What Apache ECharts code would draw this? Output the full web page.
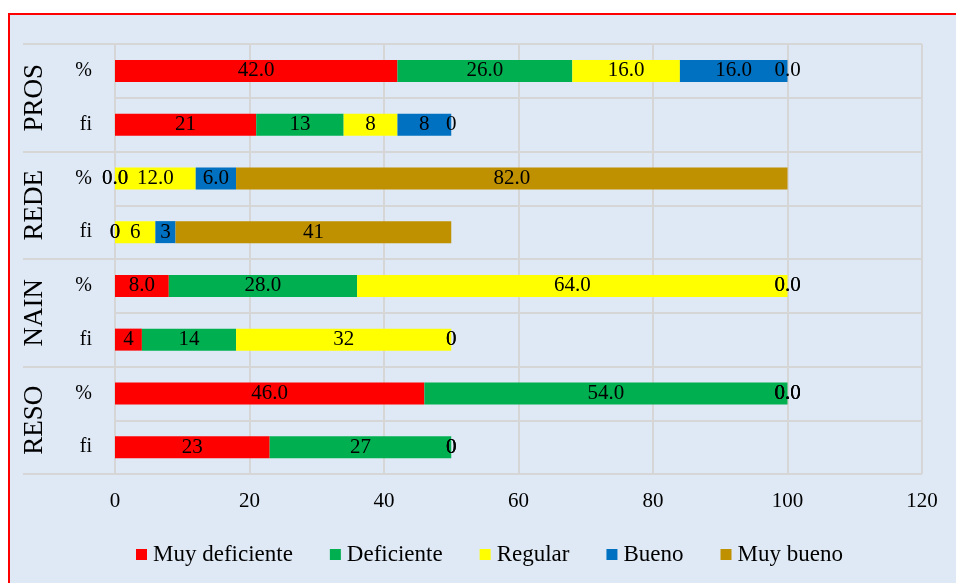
<!DOCTYPE html>
<html>
<head>
<meta charset="utf-8">
<script src="https://cdn.jsdelivr.net/npm/echarts@6/dist/echarts.min.js"></script>
<style>
  html, body { margin: 0; padding: 0; background: #ffffff; }
  #box {
    position: absolute; left: 8px; top: 13px; width: 1000px; height: 640px;
    border: 2px solid #ff0000; background: #dee9f5; box-sizing: border-box;
  }
  #chart { position: absolute; left: 0; top: 0; width: 956px; height: 583px; }
</style>
</head>
<body>
<div id="box"></div>
<div id="chart"></div>
<script>
// filas de arriba hacia abajo
const groups = ['PROS', 'REDE', 'NAIN', 'RESO'];
const rowLabels = ['%', 'fi', '%', 'fi', '%', 'fi', '%', 'fi'];
const legendNames = ['Muy deficiente', 'Deficiente', 'Regular', 'Bueno', 'Muy bueno'];

const muyDeficiente = [42, 21, 0, 0, 8, 4, 46, 23];
const deficiente    = [26, 13, 0, 0, 28, 14, 54, 27];
const regular       = [16, 8, 12, 6, 64, 32, 0, 0];
const bueno         = [16, 8, 6, 3, 0, 0, 0, 0];
const muyBueno      = [0, 0, 82, 41, 0, 0, 0, 0];

const xTicks = [0, 20, 40, 60, 80, 100, 120];

const colors = ['#ff0000', '#00b050', '#ffff00', '#0070c0', '#bf9000'];
const allValues = [muyDeficiente, deficiente, regular, bueno, muyBueno];
const font = 'Liberation Serif';

// categorias unicas: grupo + fila
const rowCats = rowLabels.map(function (r, i) { return groups[Math.floor(i / 2)] + ' ' + r; });

const myChart = echarts.init(document.getElementById('chart'));
const option = {
  animation: false,
  backgroundColor: 'transparent',
  color: colors,
  textStyle: { fontFamily: font },
  grid: {
    left: 115,
    right: 34,
    top: 44,
    bottom: 109
  },
  legend: {
    bottom: 12,
    left: 131,
    icon: 'rect',
    itemWidth: 11,
    itemHeight: 11,
    itemGap: 37,
    textStyle: { fontFamily: font, fontSize: 23, color: '#000', padding: [0, 0, 0, 1] },
    data: legendNames
  },
  xAxis: {
    type: 'value',
    min: xTicks[0],
    max: xTicks[xTicks.length - 1],
    interval: 20,
    axisLine: { show: false },
    axisTick: { show: false },
    axisLabel: { margin: 17, fontFamily: font, fontSize: 21, color: '#000' },
    splitLine: { lineStyle: { color: '#d6d6d6', width: 2 } }
  },
  yAxis: [
    {
      type: 'category',
      inverse: true,
      data: rowCats,
      axisLine: { show: true, lineStyle: { color: '#d6d6d6', width: 2 } },
      axisTick: { show: false },
      axisLabel: {
        margin: 23,
        fontFamily: font,
        fontSize: 20,
        color: '#000',
        formatter: function (v) { return v.split(' ')[1]; }
      },
      splitLine: { show: true, lineStyle: { color: '#d6d6d6', width: 2 } }
    },
    {
      type: 'category',
      inverse: true,
      position: 'left',
      data: groups,
      axisLine: { show: false },
      axisTick: { show: true, length: 92, interval: 0, lineStyle: { color: '#d6d6d6', width: 2 } },
      axisLabel: {
        rotate: 90,
        margin: 67,
        fontFamily: font,
        fontSize: 27,
        color: '#000'
      },
      splitLine: { show: false }
    }
  ],
  series: legendNames.map(function (name, k) {
    return {
      name: name,
      type: 'bar',
      stack: 'total',
      barWidth: 22,
      yAxisIndex: 0,
      data: allValues[k],
      itemStyle: { color: colors[k] },
      label: {
        show: true,
        position: 'inside',
        color: '#000',
        fontFamily: font,
        fontSize: 21,
        formatter: function (p) {
          return p.dataIndex % 2 === 0 ? p.value.toFixed(1) : String(p.value);
        }
      }
    };
  })
};

myChart.setOption(option);
window.addEventListener('resize', function () {
  myChart.resize();
});
</script>
</body>
</html>
